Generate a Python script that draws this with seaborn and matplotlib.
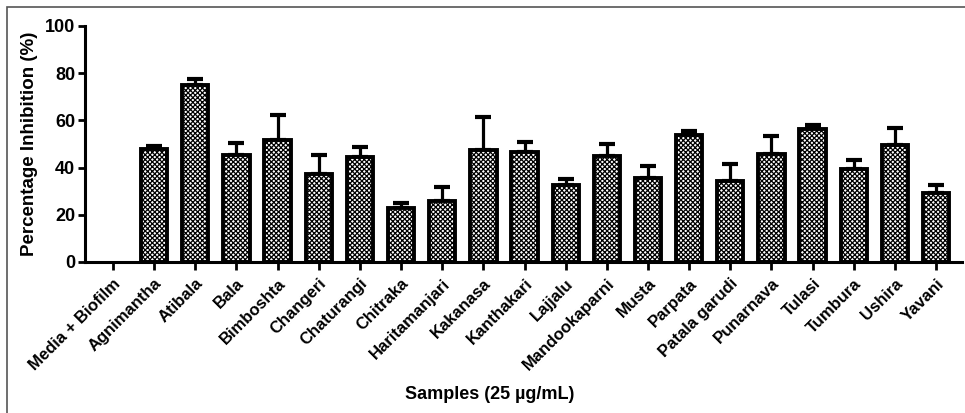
import matplotlib
matplotlib.use("Agg")
import matplotlib.pyplot as plt
import seaborn as sns
import numpy as np
import pandas as pd
from matplotlib.patches import Rectangle

samples = ["Media + Biofilm", "Agnimantha", "Atibala", "Bala", "Bimboshta", "Changeri",
           "Chaturangi", "Chitraka", "Haritamanjari", "Kakanasa", "Kanthakari", "Lajjalu",
           "Mandookaparni", "Musta", "Parpata", "Patala garudi", "Punarnava", "Tulasi",
           "Tumbura", "Ushira", "Yavani"]
means = [0.0, 48.0, 74.8, 45.5, 51.9, 37.3, 44.3, 22.8, 25.7, 47.6, 46.6, 32.5,
         44.8, 35.6, 53.7, 34.2, 45.9, 56.2, 39.5, 49.7, 29.2]
sds = [0.0, 1.2, 2.8, 5.0, 10.3, 8.0, 4.4, 2.4, 5.9, 13.9, 4.1, 2.5,
       5.1, 5.1, 2.0, 7.3, 7.4, 1.8, 3.9, 6.9, 3.6]
yticks = [0, 20, 40, 60, 80, 100]

sns.set_theme(style="ticks")
plt.rcParams['font.family'] = ['Liberation Sans', 'DejaVu Sans']
plt.rcParams['font.weight'] = 'bold'
plt.rcParams['text.color'] = 'black'
plt.rcParams['axes.labelcolor'] = 'black'
plt.rcParams['xtick.color'] = 'black'
plt.rcParams['ytick.color'] = 'black'
plt.rcParams['hatch.linewidth'] = 0.9
plt.rcParams['hatch.color'] = 'black'

df = pd.DataFrame({"Sample": samples, "Mean": means})

fig = plt.figure(figsize=(9.65, 4.13), dpi=100)
ax = fig.add_axes([85/965, 1-262/413, 877/965, (262-26)/413])

sns.barplot(data=df, x="Sample", y="Mean", ax=ax, color="white", width=0.64,
            edgecolor="black", linewidth=2.8, errorbar=None, zorder=2, saturation=1)
for p, m in zip(ax.patches, means):
    p.set_hatch("xxxxxxx")
    if m == 0:
        p.set_visible(False)

xpos = np.arange(len(samples))
mask = np.array(means) > 0
ax.errorbar(xpos[mask], np.array(means)[mask],
            yerr=[np.zeros(mask.sum()), np.array(sds)[mask]], fmt="none", ecolor="black",
            elinewidth=2.3, capsize=5.8, capthick=3.0, zorder=1)

ax.set_xlim(-0.68, 20.63)
ax.set_ylim(0, 100)
ax.set_yticks(yticks)
ax.set_yticklabels([str(t) for t in yticks], fontsize=13, fontweight='bold')
ax.set_xticks(xpos)
ax.set_xticklabels(samples, rotation=45, ha='right', rotation_mode='anchor',
                   fontsize=12, fontweight='bold')
ax.tick_params(axis='both', direction='out', width=2.0, length=5, color='black', pad=2)
ax.tick_params(axis='x', length=6, pad=4)
for s in ['left', 'bottom']:
    ax.spines[s].set_linewidth(2.2)
    ax.spines[s].set_color('black')
sns.despine(ax=ax)
ax.set_ylabel("Percentage Inhibition (%)", fontsize=13.5, fontweight='bold', labelpad=5)
ax.set_xlabel("Samples (25 \u00b5g/mL)", fontsize=13, fontweight='bold')
ax.xaxis.set_label_coords((490-85)/877, -(386-262)/236)

fig.patches.append(Rectangle((7/965, -0.1), 1.2, 1-7/413+0.1, transform=fig.transFigure,
                             fill=False, edgecolor='#555555', linewidth=1.2))

fig.savefig("out.png", dpi=100)
